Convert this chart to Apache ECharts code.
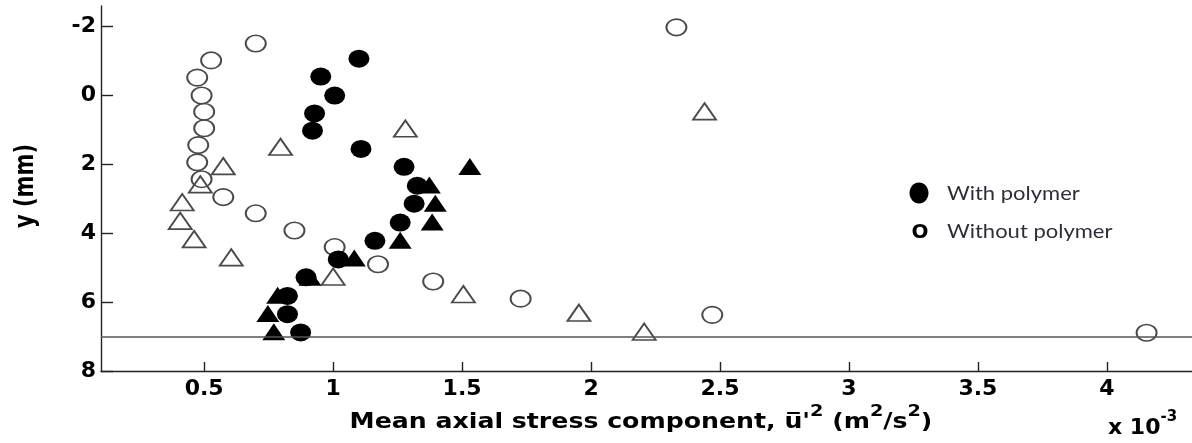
<!DOCTYPE html>
<html>
<head>
<meta charset="utf-8">
<script src="https://cdn.jsdelivr.net/npm/echarts@6/dist/echarts.min.js"></script>
<style>
  html, body { margin: 0; padding: 0; background: #fff; }
  #chart { width: 1192px; height: 443px; }
</style>
</head>
<body>
<div id="chart"></div>
<script>
// Mean axial stress (x 10^-3 m^2/s^2) against wall-normal position y (mm)

// With polymer, circles
const polyCircleX = [1.10, 0.952, 1.006, 0.928, 0.92, 1.108, 1.275, 1.326, 1.314, 1.26, 1.162, 1.02, 0.895, 0.823, 0.823, 0.874];
const polyCircleY = [-1.07, -0.55, 0, 0.52, 1.02, 1.55, 2.07, 2.62, 3.14, 3.69, 4.22, 4.76, 5.28, 5.82, 6.35, 6.88];

// With polymer, triangles
const polyTriX = [1.53, 1.373, 1.396, 1.384, 1.26, 1.082, 0.91, 0.785, 0.747, 0.77];
const polyTriY = [2.06, 2.6, 3.13, 3.67, 4.2, 4.72, 5.28, 5.8, 6.33, 6.86];

// Without polymer, circles
const plainCircleX = [2.331, 0.70, 0.527, 0.473, 0.49, 0.50, 0.50, 0.477, 0.473, 0.49, 0.574, 0.70, 0.85, 1.006, 1.174, 1.388, 1.727, 2.47, 4.154];
const plainCircleY = [-1.98, -1.51, -1.02, -0.52, 0, 0.47, 0.95, 1.44, 1.94, 2.43, 2.95, 3.42, 3.92, 4.4, 4.9, 5.4, 5.9, 6.37, 6.89];

// Without polymer, triangles
const plainTriX = [2.44, 1.28, 0.796, 0.574, 0.485, 0.415, 0.407, 0.461, 0.605, 1.0, 1.505, 1.953, 2.206];
const plainTriY = [0.46, 0.96, 1.49, 2.05, 2.58, 3.1, 3.64, 4.17, 4.7, 5.26, 5.77, 6.31, 6.86];

// Wall position
const wallY = 7;

// Tick labels
const xTicks = [0.5, 1, 1.5, 2, 2.5, 3, 3.5, 4];
const yTicks = [-2, 0, 2, 4, 6, 8];

const pairs = (xs, ys) => xs.map((x, i) => [x, ys[i]]);

const chart = echarts.init(document.getElementById('chart'), null, { renderer: 'canvas' });

const tickFont = { fontFamily: 'DejaVu Sans', fontWeight: 'bold', fontSize: 22, color: '#000' };

const openStyle = { color: 'rgba(0,0,0,0)', borderColor: '#4a4a4a', borderWidth: 1.8, opacity: 1 };
const solidStyle = { color: '#000', borderWidth: 0, opacity: 1 };

// rich-text styles: main run and raised exponent
const mainRun = (size, lh) => ({ fontFamily: 'DejaVu Sans', fontWeight: 'bold', fontSize: size, lineHeight: lh, verticalAlign: 'middle', fill: '#000', color: '#000' });
const supRun = (size) => ({ fontFamily: 'DejaVu Sans', fontWeight: 'bold', fontSize: size, lineHeight: size + 2, verticalAlign: 'top', fill: '#000', color: '#000' });

chart.setOption({
  animation: false,
  backgroundColor: '#fff',
  grid: { left: 101, top: 6, right: 0, bottom: 72, containLabel: false },
  xAxis: {
    type: 'value',
    min: 0.1,
    max: 4.33,
    splitLine: { show: false },
    axisLine: { show: true, onZero: false, lineStyle: { color: '#222', width: 1.4 } },
    axisTick: { show: true, inside: true, length: 9, customValues: xTicks, lineStyle: { color: '#222', width: 1.4 } },
    axisLabel: Object.assign({ customValues: xTicks, margin: 7 }, tickFont)
  },
  yAxis: {
    type: 'value',
    inverse: true,
    min: -2.6,
    max: 8,
    splitLine: { show: false },
    axisLine: { show: true, onZero: false, lineStyle: { color: '#222', width: 1.4 } },
    axisTick: { show: true, inside: true, length: 12, customValues: yTicks, lineStyle: { color: '#222', width: 1.4 } },
    axisLabel: Object.assign({ customValues: yTicks, margin: 5, padding: [6, 0, 0, 0] }, tickFont)
  },
  series: [
    {
      name: 'Without polymer (triangles)',
      type: 'scatter',
      symbol: 'triangle',
      symbolSize: [23, 16.5],
      itemStyle: openStyle,
      data: pairs(plainTriX, plainTriY),
      z: 2
    },
    {
      name: 'Without polymer',
      type: 'scatter',
      symbol: 'circle',
      symbolSize: [20, 16.5],
      itemStyle: openStyle,
      data: pairs(plainCircleX, plainCircleY),
      z: 2
    },
    {
      name: 'With polymer (triangles)',
      type: 'scatter',
      symbol: 'triangle',
      symbolSize: [23, 17],
      itemStyle: solidStyle,
      data: pairs(polyTriX, polyTriY),
      z: 3
    },
    {
      name: 'With polymer',
      type: 'scatter',
      symbol: 'circle',
      symbolSize: [21, 18],
      itemStyle: solidStyle,
      data: pairs(polyCircleX, polyCircleY),
      z: 4,
      markLine: {
        silent: true,
        symbol: 'none',
        label: { show: false },
        lineStyle: { color: '#555', width: 1.5, type: 'solid', opacity: 1 },
        data: [{ yAxis: wallY }]
      }
    }
  ],
  graphic: [
    // x-axis title
    {
      type: 'text',
      x: 641,
      y: 423,
      scaleX: 1.2,
      style: {
        text: '{m|Mean axial stress component, u\u0305\'}{s|2}{m| (m}{s|2}{m|/s}{s|2}{m|)}',
        textAlign: 'center',
        textVerticalAlign: 'middle',
        rich: { m: mainRun(21, 38), s: supRun(16) }
      }
    },
    // exponent note
    {
      type: 'text',
      x: 1108,
      y: 428,
      style: {
        text: '{m|x 10}{s|-3}',
        textAlign: 'left',
        textVerticalAlign: 'middle',
        rich: { m: mainRun(22, 36), s: supRun(15) }
      }
    },
    // y-axis title
    {
      type: 'text',
      x: 26,
      y: 186,
      rotation: Math.PI / 2,
      scaleY: 1.3,
      style: {
        text: 'y (mm)',
        fontFamily: 'DejaVu Sans',
        fontWeight: 'bold',
        fontSize: 21,
        fill: '#000',
        textAlign: 'center',
        textVerticalAlign: 'middle'
      }
    },
    // key
    {
      type: 'ellipse',
      shape: { cx: 919, cy: 193, rx: 9.5, ry: 10.5 },
      style: { fill: '#000' }
    },
    {
      type: 'text',
      x: 947,
      y: 194,
      scaleX: 1.1,
      style: {
        text: 'With polymer',
        fontFamily: 'Lato',
        fontSize: 20,
        fill: '#2e2e3a',
        textAlign: 'left',
        textVerticalAlign: 'middle'
      }
    },
    {
      type: 'text',
      x: 920,
      y: 233,
      style: {
        text: 'O',
        fontFamily: 'DejaVu Sans',
        fontWeight: 'bold',
        fontSize: 20,
        fill: '#000',
        textAlign: 'center',
        textVerticalAlign: 'middle'
      }
    },
    {
      type: 'text',
      x: 947,
      y: 232,
      scaleX: 1.1,
      style: {
        text: 'Without polymer',
        fontFamily: 'Lato',
        fontSize: 20,
        fill: '#2e2e3a',
        textAlign: 'left',
        textVerticalAlign: 'middle'
      }
    }
  ]
});
</script>
</body>
</html>
